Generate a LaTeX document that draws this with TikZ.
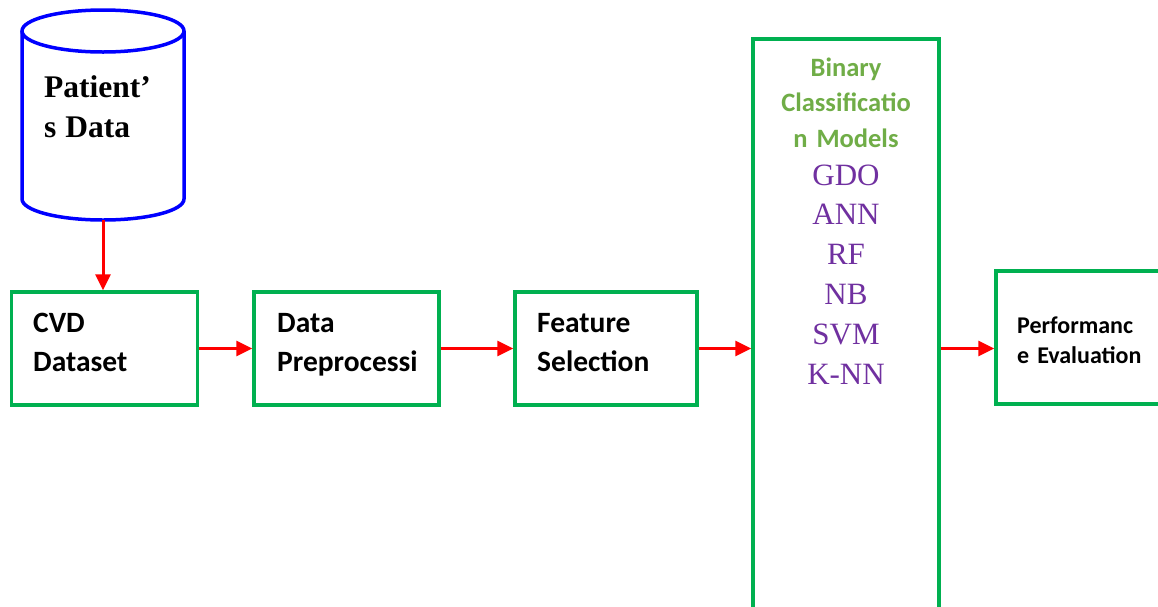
\documentclass[tikz,border=0pt]{standalone}
\usepackage{fontspec}
\setmainfont{Liberation Serif}
\newfontfamily\calibri{Carlito}
\usetikzlibrary{arrows.meta}
\definecolor{boxgreen}{HTML}{00B050}
\definecolor{txtgreen}{HTML}{70AD47}
\definecolor{txtpurple}{HTML}{7030A0}
\definecolor{cylblue}{HTML}{0000FF}
\definecolor{arrred}{HTML}{FF0000}
\tikzset{
  stagebox/.style={draw=boxgreen, line width=3.5pt, fill=white, inner sep=0pt, rectangle},
  cyl/.style={draw=cylblue, line width=3.5pt, fill=white},
  conn/.style={draw=arrred, line width=3pt, -{Triangle[length=16pt, width=15pt]}},
  steptext/.style={inner sep=0pt, anchor=base west, align=left, text width=150pt,
    font=\calibri\bfseries\fontsize{29.5}{39}\selectfont},
  pattext/.style={inner sep=0pt, anchor=base west, align=left, text width=140pt,
    font=\bfseries\fontsize{31.5}{40}\selectfont},
  modtitle/.style={inner sep=0pt, anchor=base, align=center, text width=175pt,
    text=txtgreen, font=\calibri\bfseries\fontsize{26.5}{35.5}\selectfont},
  modlist/.style={inner sep=0pt, anchor=base, align=center, text width=175pt,
    text=txtpurple, font=\fontsize{31}{39.8}\selectfont},
  perftext/.style={inner sep=0pt, anchor=base west, align=left, text width=140pt,
    font=\calibri\bfseries\fontsize{24}{30}\selectfont}
}
\begin{document}
\begin{tikzpicture}[x=1pt,y=-1pt]
\useasboundingbox (0,0) rectangle (1158,606);
\begin{scope}
\clip (0,0) rectangle (1158,606);
% cylinder
\draw[cyl] (22,31) -- (22,199) arc[start angle=180, end angle=360, x radius=81pt, y radius=21pt] -- (184,31);
\draw[cyl] (103,31) ellipse [x radius=81pt, y radius=21pt];
\coordinate (cylbot) at (103,220);
\node[pattext] (pat) at (44,97) {Patient’\\s\hspace{-1.5pt} Data};
% boxes
\node[stagebox, minimum width=186pt, minimum height=113pt] (cvd) at (104.25,348.5) {};
\node[stagebox, minimum width=185pt, minimum height=113pt] (dp) at (346.5,348.5) {};
\node[stagebox, minimum width=182pt, minimum height=113pt] (fs) at (606,348.5) {};
\node[stagebox, minimum width=186pt, minimum height=601pt] (bc) at (846,339.5) {};
\node[stagebox, minimum width=179pt, minimum height=133pt] (pe) at (1085.5,337.5) {};
% texts
\node[steptext] (cvdt) at (33,332) {CVD\\Dataset};
\node[steptext] (dpt) at (277,332) {Data\\Preprocessi};
\node[steptext] (fst) at (537,332) {Feature\\Selection};
\node[modtitle] (bct) at (846,76) {Binary\\Classificatio\\n Models};
\node[modlist] (bcl) at (846,185) {GDO\\ANN\\RF\\NB\\SVM\\K-NN};
\node[perftext] (pet) at (1017,333) {Performanc\\e Evaluation};
% connectors
\draw[conn] (cylbot) -- (cylbot |- cvd.north);
\draw[conn] (cvd.east) -- (dp.west);
\draw[conn] (dp.east) -- (fs.west);
\draw[conn] (fs.east) -- (fs.east -| bc.west);
\draw[conn] (bc.east |- fs.east) -- (pe.west |- fs.east);
\end{scope}
\end{tikzpicture}
\end{document}
